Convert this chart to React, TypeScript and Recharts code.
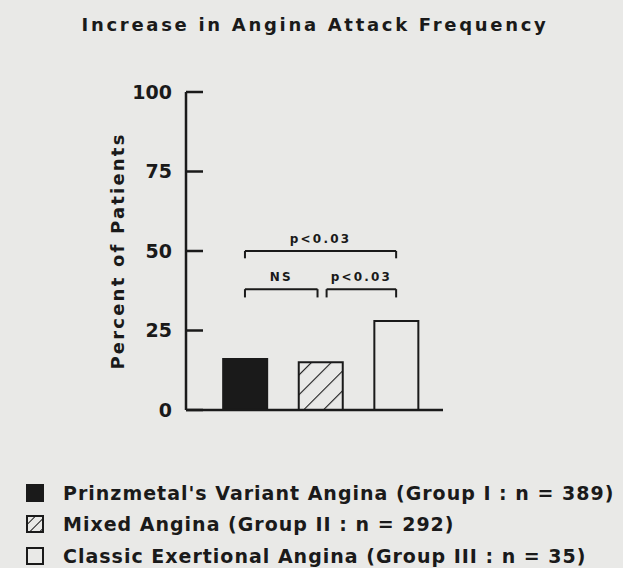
import { BarChart, Bar, Cell, XAxis, YAxis, ReferenceLine, Legend } from "recharts";

// groups in plot order, positioned at 0, 1, 2 on a numeric x scale
const groupNames = [
  "Prinzmetal's Variant Angina (Group I : n = 389)",
  "Mixed Angina (Group II : n = 292)",
  "Classic Exertional Angina (Group III : n = 35)",
];
const groupPos = [0, 1, 2];
const percentIncrease = [16, 15, 28];
const yTicks = [0, 25, 50, 75, 100];

// significance brackets (x in group positions, y in percent)
const bracketLabels = ["p<0.03", "NS", "p<0.03"];
const bracketFrom = [0, 0, 1.08];
const bracketTo = [2, 0.96, 2];
const bracketLevel = [50, 38, 38];
const bracketDrop = [2.3, 2.6, 2.6];

const INK = "#1a1a1a";
const PAPER = "#e9e9e7";
const FONT = "'DejaVu Sans', sans-serif";
const FILLS = [INK, "url(#hatch)", PAPER];
const SWATCH_FILLS = [INK, "url(#hatchSmall)", PAPER];

const data = groupPos.map((x, i) => ({ x, pct: percentIncrease[i], name: groupNames[i] }));

function Swatch({ i }: { i: number }) {
  return (
    <svg width={18} height={18} style={{ marginRight: 19, flex: "none" }}>
      <rect x={1} y={1} width={16} height={16} fill={SWATCH_FILLS[i]} stroke={INK} strokeWidth={2} />
    </svg>
  );
}

function LegendBox() {
  return (
    <div style={{ fontFamily: FONT, fontSize: 19, fontWeight: 700, letterSpacing: 1, color: INK }}>
      {groupNames.map((g, i) => (
        <div key={g} style={{ display: "flex", alignItems: "center", height: 31.5, whiteSpace: "nowrap" }}>
          <Swatch i={i} />
          <span>{g}</span>
        </div>
      ))}
    </div>
  );
}

export default function App() {
  return (
    <div
      style={{
        position: "absolute",
        left: 0,
        top: 0,
        width: 623,
        height: 568,
        background: PAPER,
        overflow: "hidden",
      }}
    >
      <svg width={0} height={0} style={{ position: "absolute" }}>
        <defs>
          <pattern id="hatch" patternUnits="userSpaceOnUse" width={14} height={14} patternTransform="rotate(45)">
            <rect width={14} height={14} fill={PAPER} />
            <line x1={0} y1={0} x2={0} y2={14} stroke={INK} strokeWidth={2.2} />
          </pattern>
          <pattern id="hatchSmall" patternUnits="userSpaceOnUse" width={7} height={7} patternTransform="rotate(45)">
            <rect width={7} height={7} fill={PAPER} />
            <line x1={0} y1={0} x2={0} y2={7} stroke={INK} strokeWidth={2} />
          </pattern>
        </defs>
      </svg>
      <div
        style={{
          position: "absolute",
          top: 14,
          left: 0,
          width: 630,
          textAlign: "center",
          fontFamily: FONT,
          fontSize: 18,
          fontWeight: 700,
          letterSpacing: 2.7,
          color: INK,
        }}
      >
        Increase in Angina Attack Frequency
      </div>
      <BarChart width={623} height={568} data={data} margin={{ top: 92, right: 180, left: 106, bottom: 156 }}>
        <XAxis
          type="number"
          dataKey="x"
          domain={[-0.78, 2.62]}
          allowDataOverflow
          tick={false}
          tickLine={false}
          height={2}
          axisLine={{ stroke: INK, strokeWidth: 2.5 }}
        />
        <YAxis
          type="number"
          domain={[0, 100]}
          ticks={yTicks}
          width={80}
          tickSize={-17}
          tickMargin={31}
          axisLine={{ stroke: INK, strokeWidth: 2.5 }}
          tickLine={{ stroke: INK, strokeWidth: 2.5 }}
          tick={{ fill: INK, fontFamily: FONT, fontSize: 19, fontWeight: 700, letterSpacing: 0 }}
          label={{
            value: "Percent of Patients",
            angle: -90,
            position: "insideLeft",
            offset: 12,
            style: {
              textAnchor: "middle",
              fill: INK,
              fontFamily: FONT,
              fontSize: 18,
              fontWeight: 700,
              letterSpacing: 2.2,
            },
          }}
        />
        <Bar dataKey="pct" barSize={44} isAnimationActive={false}>
          {data.map((d, i) => (
            <Cell key={d.name} fill={FILLS[i]} stroke={INK} strokeWidth={2} />
          ))}
        </Bar>
        {bracketLabels.map((lab, i) => (
          <ReferenceLine
            key={"h" + i}
            segment={[
              { x: bracketFrom[i], y: bracketLevel[i] },
              { x: bracketTo[i], y: bracketLevel[i] },
            ]}
            stroke={INK}
            strokeWidth={2}
            label={{
              value: lab,
              position: "top",
              offset: 8,
              style: { fill: INK, fontFamily: FONT, fontSize: 12, fontWeight: 700, letterSpacing: 2.2 },
            }}
          />
        ))}
        {bracketLabels.map((lab, i) =>
          [bracketFrom[i], bracketTo[i]].map((x, j) => (
            <ReferenceLine
              key={"v" + i + "-" + j}
              segment={[
                { x, y: bracketLevel[i] },
                { x, y: bracketLevel[i] - bracketDrop[i] },
              ]}
              stroke={INK}
              strokeWidth={2}
            />
          ))
        )}
        <Legend
          layout="vertical"
          align="center"
          verticalAlign="middle"
          content={() => <LegendBox />}
          wrapperStyle={{ top: 477, left: 26, width: 597, height: 95 }}
        />
      </BarChart>
    </div>
  );
}
